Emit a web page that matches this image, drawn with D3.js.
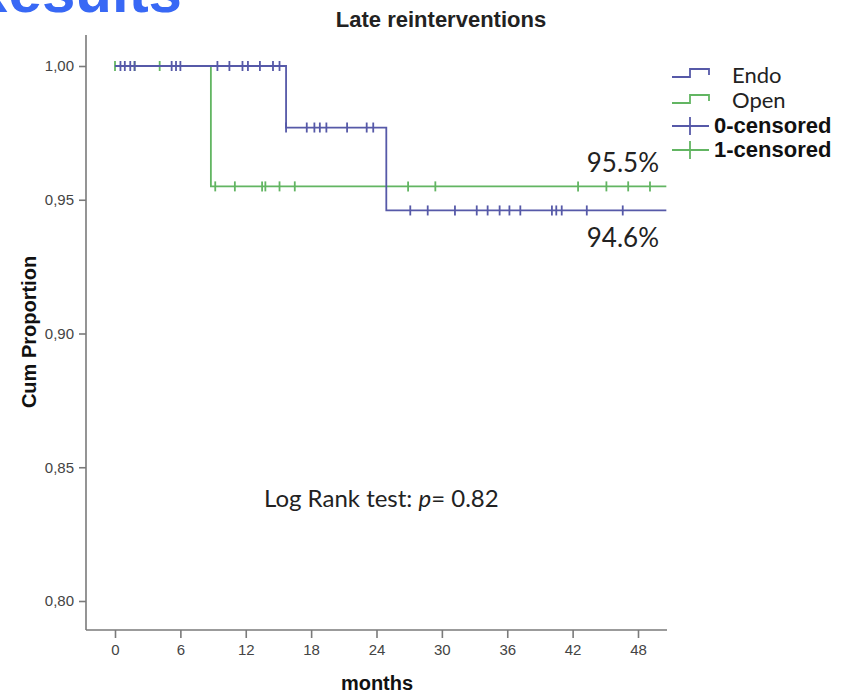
<!DOCTYPE html>
<html>
<head>
<meta charset="utf-8">
<script src="https://cdn.jsdelivr.net/npm/d3@7"></script>
<style>
  body { margin: 0; background: #fff; }
  svg { display: block; }
</style>
</head>
<body>
<div id="chart"></div>
<script>
// ---- data ----
let xTicks = [0, 6, 12, 18, 24, 30, 36, 42, 48];
let yTicks = [0.80, 0.85, 0.90, 0.95, 1.00];
let followUpEnd = 50.6;

// step curves: time of each drop and survival after it
let endoSteps = [[0, 1.0], [15.7, 0.977], [24.9, 0.946]];
let openSteps = [[0, 1.0], [8.8, 0.955]];

// censored times (months)
let endoCensored = [0.5, 0.9, 1.4, 1.8, 5.2, 5.6, 6.0, 9.4, 10.5, 11.7, 12.2, 13.3, 14.5, 15.1,
                    15.7, 17.6, 18.3, 18.8, 19.4, 21.3, 23.1, 23.7,
                    27.1, 28.7, 31.2, 33.2, 34.2, 35.3, 36.2, 37.2, 40.1, 40.5, 41.0, 43.3, 46.6];
let openCensored = [0, 1.8, 4.1, 9.2, 11.0, 13.5, 13.8, 15.1, 16.5, 26.9, 29.4, 42.5, 45.1, 47.1, 49.1];

let groups = ["Endo", "Open"];
let colors = ["#5659a8", "#62b562"];

// ---- layout ----
let width = 851, height = 694;
let x = d3.scaleLinear().domain([0, 48]).range([115, 638]);
let y = d3.scaleLinear().domain([0.80, 1.00]).range([601, 66]);
let axisLeftX = 86, axisBottomY = 630;
let sans = "Liberation Sans, Arial, sans-serif";
let noteFont = "Lato, 'Open Sans', sans-serif";

let svg = d3.select("#chart").append("svg")
  .attr("width", width)
  .attr("height", height);

// slide heading, cut off by the top of the picture
svg.append("text")
  .attr("x", 182).attr("y", 12)
  .attr("text-anchor", "end")
  .attr("font-family", sans)
  .attr("font-weight", "bold")
  .attr("font-size", 60)
  .attr("fill", "#3868f5")
  .text("Results");

// title
svg.append("text")
  .attr("x", 441).attr("y", 27)
  .attr("text-anchor", "middle")
  .attr("font-family", sans)
  .attr("font-weight", "bold")
  .attr("font-size", 22)
  .attr("fill", "#222")
  .text("Late reinterventions");

// axes
let axisColor = "#7a7a7a";
svg.append("line")
  .attr("x1", axisLeftX).attr("x2", axisLeftX)
  .attr("y1", 35).attr("y2", axisBottomY)
  .attr("stroke", axisColor).attr("stroke-width", 1.6);
svg.append("line")
  .attr("x1", axisLeftX).attr("x2", 667)
  .attr("y1", axisBottomY).attr("y2", axisBottomY)
  .attr("stroke", axisColor).attr("stroke-width", 1.6);

let xAxis = svg.append("g")
  .attr("transform", "translate(0," + axisBottomY + ")")
  .call(d3.axisBottom(x).tickValues(xTicks).tickSize(8).tickPadding(6));
xAxis.select(".domain").remove();

let yAxis = svg.append("g")
  .attr("transform", "translate(" + axisLeftX + ",0)")
  .call(d3.axisLeft(y).tickValues(yTicks).tickSize(7).tickPadding(5)
    .tickFormat(d => d3.format(".2f")(d).replace(".", ",")));
yAxis.select(".domain").remove();

svg.selectAll(".tick line").attr("stroke", axisColor).attr("stroke-width", 1.6);
svg.selectAll(".tick text")
  .attr("font-family", sans)
  .attr("font-size", 15)
  .attr("fill", "#444");

// axis titles
svg.append("text")
  .attr("transform", "translate(36,332) rotate(-90)")
  .attr("text-anchor", "middle")
  .attr("font-family", sans)
  .attr("font-weight", "bold")
  .attr("font-size", 20)
  .attr("fill", "#111")
  .text("Cum Proportion");
svg.append("text")
  .attr("x", 377).attr("y", 690)
  .attr("text-anchor", "middle")
  .attr("font-family", sans)
  .attr("font-weight", "bold")
  .attr("font-size", 20)
  .attr("fill", "#111")
  .text("months");

// step curve path
function stepPath(steps) {
  let pts = steps.map(s => [s[0], s[1]]);
  pts.push([followUpEnd, steps[steps.length - 1][1]]);
  return d3.line()
    .x(d => x(d[0]))
    .y(d => y(d[1]))
    .curve(d3.curveStepAfter)(pts);
}

function survivalAt(steps, t) {
  let s = steps[0][1];
  steps.forEach(d => { if (t >= d[0]) s = d[1]; });
  return s;
}

// draw open first so endo sits above
[[openSteps, openCensored, colors[1]], [endoSteps, endoCensored, colors[0]]].forEach(g => {
  svg.append("path")
    .attr("d", stepPath(g[0]))
    .attr("fill", "none")
    .attr("stroke", g[2])
    .attr("stroke-width", 1.8);
  svg.append("g").selectAll("line")
    .data(g[1])
    .enter()
    .append("line")
    .attr("x1", d => x(d)).attr("x2", d => x(d))
    .attr("y1", d => y(survivalAt(g[0], d)) - 5)
    .attr("y2", d => y(survivalAt(g[0], d)) + 5)
    .attr("stroke", g[2])
    .attr("stroke-width", 1.8);
});

// annotations
svg.append("text")
  .attr("x", 659).attr("y", 172)
  .attr("text-anchor", "end")
  .attr("font-family", noteFont).attr("font-size", 26).attr("fill", "#222")
  .text("95.5%");
svg.append("text")
  .attr("x", 659).attr("y", 247)
  .attr("text-anchor", "end")
  .attr("font-family", noteFont).attr("font-size", 26).attr("fill", "#222")
  .text("94.6%");
let lr = svg.append("text")
  .attr("x", 264).attr("y", 507)
  .attr("font-family", noteFont).attr("font-size", 24).attr("fill", "#222");
lr.append("tspan").text("Log Rank test: ");
lr.append("tspan").attr("font-style", "italic").text("p");
lr.append("tspan").text("= 0.82");

// legend
groups.forEach((name, i) => {
  let y0 = 77 + i * 26;
  svg.append("path")
    .attr("d", "M672," + y0 + "H690V" + (y0 - 8) + "H709V" + (y0 - 2))
    .attr("fill", "none")
    .attr("stroke", colors[i])
    .attr("stroke-width", 1.8);
  svg.append("text")
    .attr("x", 732).attr("y", 83 + i * 25)
    .attr("font-family", noteFont)
    .attr("font-size", 22).attr("fill", "#222")
    .text(name);
});
["0-censored", "1-censored"].forEach((name, i) => {
  let y0 = 126 + i * 24;
  svg.append("line")
    .attr("x1", 672).attr("x2", 709).attr("y1", y0).attr("y2", y0)
    .attr("stroke", colors[i]).attr("stroke-width", 1.8);
  svg.append("line")
    .attr("x1", 690).attr("x2", 690).attr("y1", y0 - 9).attr("y2", y0 + 9)
    .attr("stroke", colors[i]).attr("stroke-width", 1.8);
  svg.append("text")
    .attr("x", 714).attr("y", y0 + 7)
    .attr("font-family", sans)
    .attr("font-weight", "bold")
    .attr("font-size", 22).attr("fill", "#111")
    .text(name);
});
</script>
</body>
</html>
